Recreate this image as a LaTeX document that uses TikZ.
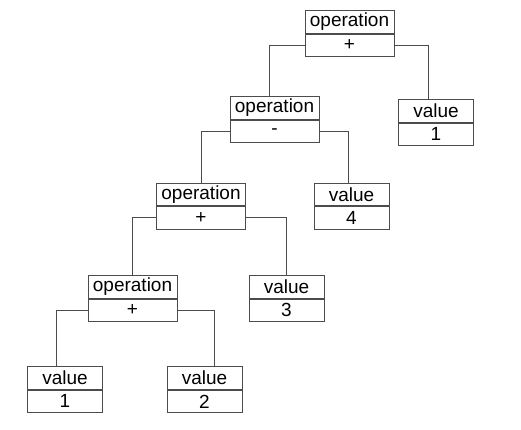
\documentclass[tikz,border=0pt]{standalone}
\usepackage{fontspec}
\setmainfont{Liberation Sans}
\usetikzlibrary{positioning}
\begin{document}
\begin{tikzpicture}[x=1pt,y=-1pt]
    \tikzstyle{cell} = [rectangle,minimum height=22.5pt,inner sep=0pt,text centered,draw=black!70,line width=0.9pt,fill=white,font=\fontsize{19}{19}\selectfont]
    \tikzstyle{opcell} = [cell,minimum width=89pt]
    \tikzstyle{valcell} = [cell,minimum width=75pt]
    \tikzstyle{link} = [draw=black!70,line width=0.9pt]
    \fill [white] (0,0) rectangle (521,429);
    \useasboundingbox (0,0) rectangle (521,429);
    % operations
    \node (root)[opcell] at (349.5,22) {operation};
    \node (rootop)[opcell,below=0pt of root]{+};
    \node (minus)[opcell] at (274.5,108) {operation};
    \node (minusop)[opcell,below=0pt of minus]{-};
    \node (plus)[opcell] at (201,194.5) {operation};
    \node (plusop)[opcell,below=0pt of plus]{+};
    \node (inner)[opcell] at (132.5,287) {operation};
    \node (innerop)[opcell,below=0pt of inner]{+};
    % values
    \node (vone)[valcell] at (436,111) {value};
    \node (vonenum)[valcell,below=0pt of vone]{1};
    \node (vfour)[valcell] at (351.5,194.5) {value};
    \node (vfournum)[valcell,below=0pt of vfour]{4};
    \node (vthree)[valcell] at (286.5,287) {value};
    \node (vthreenum)[valcell,below=0pt of vthree]{3};
    \node (leafa)[valcell] at (65,378) {value};
    \node (leafanum)[valcell,below=0pt of leafa]{1};
    \node (leafb)[valcell] at (204.5,378) {value};
    \node (leafbnum)[valcell,below=0pt of leafb]{2};
    % links
    \draw [link] (rootop.west) -| ([xshift=-5.5pt]minus.north);
    \draw [link] (rootop.east) -| ([xshift=-8pt]vone.north);
    \draw [link] (minusop.west) -| (plus.north);
    \draw [link] (minusop.east) -| ([xshift=-3.5pt]vfour.north);
    \draw [link] (plusop.west) -| (inner.north);
    \draw [link] (plusop.east) -| (vthree.north);
    \draw [link] (innerop.west) -| ([xshift=-9pt]leafa.north);
    \draw [link] (innerop.east) -| ([xshift=9.5pt]leafb.north);
\end{tikzpicture}
\end{document}
